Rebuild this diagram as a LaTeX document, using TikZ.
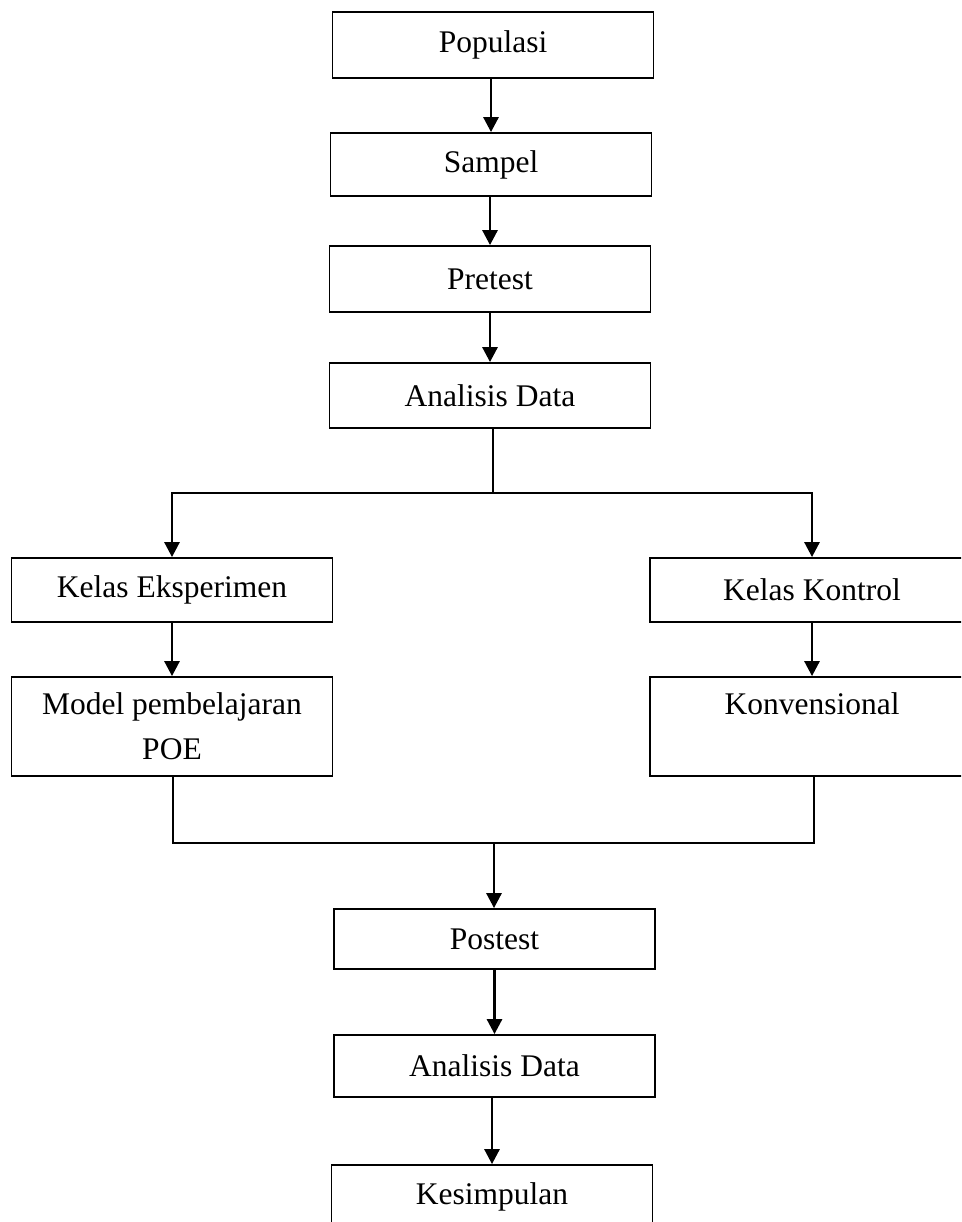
\documentclass[tikz,border=0pt]{standalone}
\usepackage{fontspec}
\setmainfont{Liberation Serif}
\usetikzlibrary{arrows.meta}
\begin{document}
\begin{tikzpicture}[x=1pt,y=-1pt,
  box/.style={draw=black,line width=1.8pt,inner sep=0pt,minimum width=321pt,align=center,
    font=\fontsize{31.5}{45}\selectfont},
  conn/.style={line width=2.8pt},
  arr/.style={conn,-{Triangle[width=15pt,length=15pt]}}]
\useasboundingbox (0,0) rectangle (961,1222);
\clip (0,0) rectangle (961,1222);
\node[box,minimum height=66pt] (pop) at (493,45) {Populasi};
\node[box,minimum height=63pt] (samp) at (491,164.5) {Sampel};
\node[box,minimum height=66pt] (pre) at (490,279) {Pretest};
\node[box,minimum height=65pt] (ana1) at (490,395.5) {Analisis Data};
\coordinate (s1) at (493,493);
\node[box,minimum height=64pt] (ke) at (172,590) {Kelas Eksperimen};
\node[box,minimum height=99pt] (model) at (172,726.5) {Model pembelajaran\\POE};
\node[box,minimum width=324pt,minimum height=64pt] (kk) at (812,590) {Kelas Kontrol};
\node[box,minimum width=324pt,minimum height=99pt] (konv) at (812,726.5) {Konvensional\\\mbox{}};
\coordinate (j) at (494,843);
\node[box,minimum height=60pt] (post) at (494.5,939) {Postest};
\node[box,minimum height=62pt] (ana2) at (494.5,1066) {Analisis Data};
\node[box,minimum height=64pt] (kes) at (492,1197) {Kesimpulan};
\draw[arr] (pop.south -| samp.north) -- (samp.north);
\draw[arr] (samp.south -| pre.north) -- (pre.north);
\draw[arr] (pre.south -| ana1.north) -- (ana1.north);
\draw[conn] (ana1.south -| s1) -- (s1);
\draw[arr] ([xshift=1.4pt]s1) -| (ke.north);
\draw[arr] ([xshift=-1.4pt]s1) -| (kk.north);
\draw[arr] (ke.south) -- (model.north);
\draw[arr] (kk.south) -- (konv.north);
\draw[conn] ([xshift=1pt]model.south) |- ([xshift=1pt]j);
\draw[conn] ([xshift=2pt]konv.south) |- ([xshift=-1pt]j);
\draw[arr] (j) -- (post.north -| j);
\draw[arr] (post.south) -- (ana2.north);
\draw[arr] (ana2.south -| kes.north) -- (kes.north);
\end{tikzpicture}
\end{document}
